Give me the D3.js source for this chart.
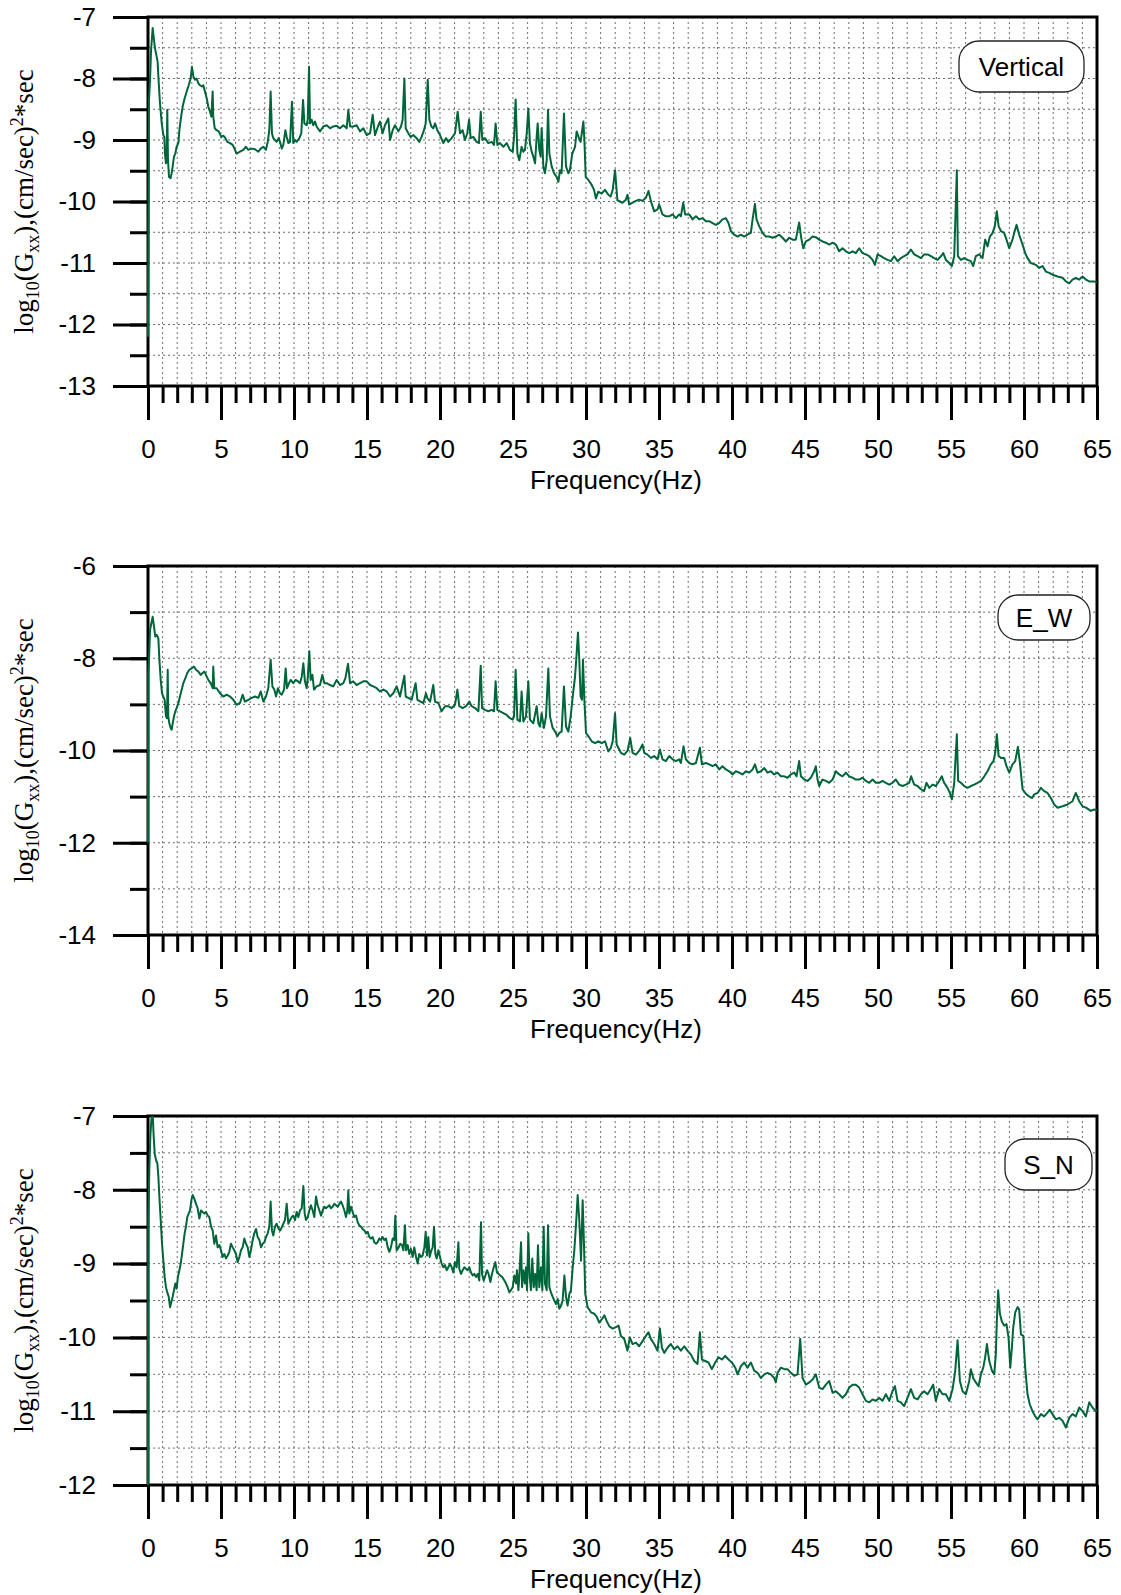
<!DOCTYPE html>
<html>
<head>
<meta charset="utf-8">
<script src="https://cdn.jsdelivr.net/npm/d3@7"></script>
<style>
  html, body { margin: 0; padding: 0; background: #fff; }
  svg { display: block; }
</style>
</head>
<body>
<script>
// ---------------- DATA ----------------
const panelNames = ["Vertical", "E_W", "S_N"];
const freqTicks = [0, 5, 10, 15, 20, 25, 30, 35, 40, 45, 50, 55, 60, 65];
const verticalYTicks = [-7, -8, -9, -10, -11, -12, -13];
const ewYTicks = [-6, -8, -10, -12, -14];
const snYTicks = [-7, -8, -9, -10, -11, -12];

// [frequency (Hz), log10(Gxx)]
const verticalSpectrum = [
[0,-12.2],[0.07,-8.35],[0.14,-8.02],[0.21,-7.54],[0.32,-7.18],[0.41,-7.37],[0.48,-7.51],[0.59,-7.64],[0.66,-7.73],[0.71,-7.97],[0.82,-8.40],[0.94,-8.73],[1.05,-8.92],[1.12,-8.95],[1.16,-9.22],[1.23,-9.38],[1.28,-9.27],[1.32,-8.51],[1.37,-9.33],[1.44,-9.60],[1.55,-9.62],[1.62,-9.54],[1.69,-9.43],[1.78,-9.27],[1.87,-9.22],[1.96,-9.11],[2.08,-9.05],[2.15,-8.84],[2.24,-8.67],[2.37,-8.46],[2.51,-8.32],[2.65,-8.21],[2.79,-8.11],[2.92,-8.00],[3.01,-7.81],[3.11,-7.97],[3.22,-8.02],[3.33,-8.00],[3.45,-8.08],[3.56,-8.11],[3.70,-8.13],[3.79,-8.11],[3.90,-8.21],[4.02,-8.32],[4.13,-8.46],[4.25,-8.54],[4.34,-8.62],[4.43,-8.21],[4.47,-8.62],[4.57,-8.81],[4.70,-8.84],[4.84,-8.86],[5.02,-8.95],[5.16,-8.93],[5.30,-8.97],[5.43,-9.03],[5.62,-9.05],[5.80,-9.08],[5.96,-9.16],[6.07,-9.22],[6.30,-9.19],[6.53,-9.16],[6.71,-9.11],[6.87,-9.16],[7.10,-9.14],[7.33,-9.15],[7.56,-9.19],[7.72,-9.14],[7.90,-9.11],[8.08,-9.16],[8.20,-9.03],[8.31,-8.84],[8.40,-8.21],[8.49,-8.89],[8.58,-8.97],[8.70,-9.00],[8.81,-9.03],[8.95,-8.97],[9.04,-9.03],[9.16,-9.14],[9.27,-9.08],[9.41,-8.84],[9.50,-8.95],[9.61,-9.05],[9.73,-9.03],[9.86,-8.38],[9.95,-9.05],[10.07,-9.00],[10.18,-9.03],[10.37,-8.97],[10.50,-8.89],[10.62,-8.35],[10.71,-8.73],[10.87,-8.76],[10.94,-8.67],[11.03,-7.81],[11.10,-8.73],[11.21,-8.67],[11.32,-8.76],[11.44,-8.70],[11.55,-8.78],[11.78,-8.86],[12.01,-8.78],[12.24,-8.76],[12.47,-8.81],[12.69,-8.78],[12.92,-8.77],[13.15,-8.81],[13.38,-8.76],[13.61,-8.81],[13.72,-8.51],[13.84,-8.78],[14.06,-8.78],[14.29,-8.76],[14.52,-8.86],[14.75,-8.81],[14.98,-8.92],[15.21,-8.89],[15.39,-8.59],[15.55,-8.92],[15.78,-8.76],[15.89,-8.70],[16.07,-8.89],[16.23,-8.76],[16.46,-8.65],[16.58,-9.00],[16.76,-8.84],[16.92,-8.76],[17.15,-8.86],[17.33,-8.78],[17.44,-8.67],[17.56,-8.00],[17.65,-8.81],[17.83,-8.89],[17.99,-8.95],[18.17,-8.92],[18.40,-8.97],[18.58,-9.03],[18.74,-8.95],[18.90,-8.84],[19.02,-8.73],[19.16,-8.02],[19.27,-8.67],[19.41,-8.78],[19.54,-8.81],[19.66,-8.73],[19.82,-8.84],[20.00,-8.92],[20.23,-9.05],[20.41,-8.97],[20.57,-9.03],[20.80,-8.97],[21.03,-8.89],[21.21,-8.54],[21.37,-8.89],[21.55,-8.84],[21.71,-9.00],[21.87,-8.89],[21.99,-8.67],[22.10,-8.97],[22.28,-8.95],[22.51,-9.03],[22.67,-9.05],[22.79,-8.54],[22.90,-9.00],[23.08,-8.97],[23.31,-9.05],[23.54,-9.03],[23.70,-9.08],[23.81,-8.73],[23.93,-9.08],[24.11,-9.05],[24.34,-9.11],[24.57,-9.05],[24.79,-9.16],[24.98,-9.19],[25.07,-8.95],[25.18,-8.34],[25.30,-9.22],[25.43,-9.33],[25.59,-9.11],[25.71,-9.19],[25.82,-9.16],[25.94,-8.89],[26.05,-8.49],[26.16,-9.05],[26.28,-9.19],[26.39,-9.27],[26.51,-9.38],[26.62,-8.95],[26.69,-8.73],[26.80,-9.16],[26.89,-9.27],[26.96,-8.81],[27.08,-9.43],[27.19,-9.54],[27.31,-9.33],[27.40,-8.51],[27.49,-9.22],[27.65,-9.43],[27.81,-9.54],[27.99,-9.60],[28.11,-9.68],[28.22,-9.49],[28.33,-9.54],[28.49,-8.57],[28.63,-9.43],[28.79,-9.54],[28.90,-9.49],[29.06,-9.22],[29.25,-9.11],[29.36,-8.86],[29.52,-8.97],[29.63,-9.03],[29.82,-8.70],[29.89,-9.00],[29.98,-9.60],[30.16,-9.65],[30.39,-9.73],[30.55,-9.81],[30.68,-9.95],[30.84,-9.84],[31.07,-9.87],[31.30,-9.81],[31.53,-9.89],[31.69,-9.92],[31.83,-9.81],[31.99,-9.49],[32.15,-9.98],[32.33,-10.00],
[32.50,-10.02],[32.73,-9.97],[32.84,-9.89],[32.96,-10.05],[33.19,-10.02],[33.42,-9.99],[33.64,-9.97],[33.87,-9.99],[34.10,-9.94],[34.28,-9.83],[34.44,-9.99],[34.67,-10.16],[34.90,-10.13],[35.01,-10.05],[35.24,-10.21],[35.47,-10.24],[35.70,-10.24],[35.93,-10.21],[36.16,-10.27],[36.38,-10.21],[36.50,-10.24],[36.66,-10.02],[36.79,-10.21],[37.07,-10.21],[37.30,-10.29],[37.53,-10.24],[37.75,-10.29],[37.98,-10.27],[38.21,-10.32],[38.44,-10.32],[38.67,-10.35],[38.89,-10.38],[39.12,-10.35],[39.35,-10.29],[39.58,-10.27],[39.76,-10.35],[39.92,-10.48],[40.15,-10.54],[40.38,-10.57],[40.61,-10.54],[40.84,-10.57],[41.06,-10.54],[41.29,-10.51],[41.41,-10.29],[41.57,-10.04],[41.68,-10.29],[41.86,-10.40],[42.09,-10.51],[42.32,-10.57],[42.55,-10.57],[42.78,-10.59],[43.00,-10.57],[43.23,-10.54],[43.46,-10.59],[43.69,-10.65],[43.92,-10.59],[44.15,-10.62],[44.37,-10.62],[44.60,-10.34],[44.74,-10.59],[44.88,-10.76],[45.06,-10.65],[45.29,-10.62],[45.52,-10.57],[45.74,-10.58],[45.97,-10.62],[46.20,-10.65],[46.43,-10.67],[46.66,-10.70],[46.89,-10.67],[47.11,-10.70],[47.34,-10.81],[47.57,-10.76],[47.80,-10.81],[48.03,-10.84],[48.26,-10.81],[48.48,-10.84],[48.71,-10.76],[48.94,-10.84],[49.17,-10.86],[49.40,-10.89],[49.63,-10.95],[49.79,-11.03],[49.97,-10.86],[50.20,-10.89],[50.42,-10.92],[50.65,-10.95],[50.88,-10.97],[51.11,-10.89],[51.34,-10.97],[51.57,-10.92],[51.79,-10.89],[52.02,-10.86],[52.25,-10.78],[52.48,-10.86],[52.71,-10.89],[52.94,-10.92],[53.16,-10.86],[53.39,-10.86],[53.62,-10.89],[53.85,-10.92],[54.08,-10.95],[54.31,-10.89],[54.47,-10.84],[54.65,-10.95],[54.88,-11.00],[55.06,-11.05],[55.22,-10.89],[55.40,-9.49],[55.47,-10.89],[55.68,-10.95],[55.90,-10.92],[56.13,-10.95],[56.36,-10.97],[56.52,-11.05],[56.70,-10.89],[56.93,-10.86],[57.16,-10.92],[57.34,-10.62],[57.50,-10.73],[57.66,-10.57],[57.85,-10.51],[58.00,-10.40],[58.14,-10.16],[58.26,-10.40],[58.42,-10.48],[58.64,-10.51],[58.80,-10.62],[58.99,-10.76],[59.21,-10.62],[59.33,-10.51],[59.49,-10.38],[59.67,-10.54],[59.90,-10.70],[60.08,-10.84],[60.24,-10.92],[60.47,-11.00],[60.81,-11.03],[61.04,-11.08],[61.27,-11.05],[61.50,-11.14],[61.73,-11.16],[61.95,-11.19],[62.30,-11.22],[62.64,-11.24],[62.87,-11.30],[63.10,-11.33],[63.32,-11.27],[63.55,-11.24],[63.78,-11.27],[64.01,-11.22],[64.24,-11.27],[64.47,-11.30],[64.81,-11.30],[65,-11.32]
];

const ewSpectrum = [
[0,-12.0],[0.02,-8.32],[0.07,-8.03],[0.14,-7.39],[0.23,-7.24],[0.32,-7.10],[0.41,-7.31],[0.50,-7.53],[0.59,-7.49],[0.71,-7.57],[0.78,-8.03],[0.87,-8.47],[0.96,-8.76],[1.05,-8.83],[1.14,-8.90],[1.23,-9.26],[1.30,-9.30],[1.35,-8.25],[1.39,-9.26],[1.46,-9.41],[1.55,-9.51],[1.62,-9.55],[1.69,-9.41],[1.78,-9.26],[1.87,-9.15],[1.96,-9.08],[2.08,-8.97],[2.19,-8.83],[2.31,-8.68],[2.42,-8.54],[2.56,-8.43],[2.69,-8.32],[2.83,-8.25],[2.99,-8.22],[3.15,-8.18],[3.29,-8.25],[3.45,-8.29],[3.61,-8.36],[3.74,-8.32],[3.86,-8.29],[3.97,-8.36],[4.13,-8.47],[4.29,-8.54],[4.43,-8.65],[4.47,-8.18],[4.54,-8.65],[4.70,-8.65],[4.93,-8.76],[5.16,-8.83],[5.39,-8.79],[5.62,-8.83],[5.84,-8.90],[6.07,-9.01],[6.30,-8.97],[6.48,-8.79],[6.64,-8.94],[6.87,-8.90],[7.10,-8.86],[7.33,-8.83],[7.56,-8.86],[7.72,-8.72],[7.90,-8.94],[8.08,-8.83],[8.24,-8.65],[8.40,-8.03],[8.52,-8.61],[8.65,-8.68],[8.77,-8.83],[8.90,-8.65],[9.04,-8.76],[9.16,-8.79],[9.32,-8.68],[9.43,-8.22],[9.52,-8.65],[9.66,-8.54],[9.77,-8.47],[9.95,-8.54],[10.11,-8.47],[10.27,-8.50],[10.41,-8.54],[10.53,-8.40],[10.64,-8.11],[10.75,-8.50],[10.87,-8.65],[10.94,-8.43],[11.05,-7.85],[11.14,-8.47],[11.26,-8.36],[11.37,-8.68],[11.55,-8.61],[11.78,-8.58],[11.94,-8.36],[12.08,-8.54],[12.24,-8.54],[12.47,-8.58],[12.69,-8.61],[12.92,-8.47],[13.15,-8.58],[13.38,-8.54],[13.52,-8.43],[13.70,-8.12],[13.84,-8.54],[14.06,-8.50],[14.29,-8.58],[14.52,-8.54],[14.75,-8.50],[14.98,-8.50],[15.21,-8.58],[15.43,-8.61],[15.66,-8.65],[15.89,-8.72],[16.12,-8.68],[16.35,-8.72],[16.58,-8.83],[16.80,-8.76],[17.03,-8.61],[17.26,-8.83],[17.56,-8.38],[17.65,-8.83],[17.83,-8.86],[18.06,-8.90],[18.33,-8.54],[18.45,-8.90],[18.68,-8.94],[18.86,-8.97],[19.04,-8.76],[19.13,-8.86],[19.32,-8.94],[19.54,-8.58],[19.66,-8.94],[19.89,-8.97],[20.11,-9.15],[20.34,-9.04],[20.57,-9.04],[20.80,-9.08],[21.03,-9.01],[21.19,-8.68],[21.32,-9.04],[21.55,-9.08],[21.78,-9.04],[22.01,-8.94],[22.17,-9.04],[22.40,-9.08],[22.63,-9.15],[22.79,-8.16],[22.88,-9.08],[23.08,-9.12],[23.31,-9.15],[23.54,-9.12],[23.70,-9.15],[23.81,-8.50],[23.93,-9.12],[24.11,-9.15],[24.34,-9.19],[24.57,-9.23],[24.79,-9.30],[24.98,-9.33],[25.07,-9.26],[25.18,-8.25],[25.30,-9.33],[25.48,-9.37],[25.59,-8.72],[25.71,-9.37],[25.89,-9.26],[26.05,-8.50],[26.16,-9.33],[26.39,-9.41],[26.62,-9.04],[26.74,-9.41],[26.85,-9.48],[26.96,-9.19],[27.12,-9.51],[27.26,-9.26],[27.42,-8.22],[27.53,-9.26],[27.72,-9.51],[27.88,-9.59],[28.04,-9.69],[28.17,-9.62],[28.33,-9.59],[28.49,-8.61],[28.63,-9.48],[28.79,-9.59],[28.95,-9.26],[29.09,-8.83],[29.25,-8.40],[29.36,-7.89],[29.45,-7.44],[29.54,-8.03],[29.63,-8.83],[29.73,-8.90],[29.79,-8.03],[29.89,-8.90],[30.00,-9.62],[30.16,-9.69],[30.39,-9.80],[30.62,-9.84],[30.84,-9.80],[31.07,-9.84],[31.30,-9.80],[31.53,-10.02],[31.69,-9.95],[31.83,-9.80],[31.99,-9.19],[32.10,-9.87],[32.28,-9.98],
[32.39,-10.05],[32.62,-10.09],[32.84,-10.01],[33.03,-9.73],[33.19,-10.05],[33.42,-10.09],[33.64,-10.01],[33.87,-9.87],[33.99,-10.05],[34.21,-10.09],[34.44,-10.16],[34.67,-10.12],[34.90,-10.19],[35.06,-9.98],[35.24,-10.19],[35.47,-10.23],[35.70,-10.12],[35.93,-10.19],[36.16,-10.23],[36.38,-10.19],[36.50,-10.27],[36.68,-9.91],[36.84,-10.19],[37.07,-10.27],[37.30,-10.30],[37.53,-10.27],[37.80,-9.94],[37.94,-10.30],[38.21,-10.27],[38.44,-10.30],[38.67,-10.34],[38.89,-10.30],[39.12,-10.41],[39.35,-10.34],[39.58,-10.41],[39.81,-10.45],[40.04,-10.52],[40.26,-10.45],[40.49,-10.48],[40.72,-10.52],[40.95,-10.45],[41.18,-10.48],[41.41,-10.41],[41.57,-10.30],[41.75,-10.48],[41.98,-10.45],[42.21,-10.38],[42.43,-10.48],[42.66,-10.45],[42.89,-10.52],[43.12,-10.48],[43.35,-10.56],[43.58,-10.56],[43.80,-10.59],[44.03,-10.52],[44.26,-10.48],[44.42,-10.56],[44.60,-10.23],[44.72,-10.56],[44.95,-10.63],[45.17,-10.66],[45.40,-10.59],[45.63,-10.45],[45.74,-10.34],[45.86,-10.63],[45.97,-10.77],[46.20,-10.63],[46.43,-10.66],[46.66,-10.70],[46.89,-10.63],[47.11,-10.45],[47.34,-10.52],[47.57,-10.56],[47.80,-10.48],[48.03,-10.56],[48.26,-10.59],[48.48,-10.63],[48.71,-10.63],[48.94,-10.59],[49.17,-10.66],[49.40,-10.70],[49.63,-10.63],[49.85,-10.70],[50.08,-10.70],[50.31,-10.66],[50.54,-10.70],[50.77,-10.74],[50.99,-10.70],[51.22,-10.63],[51.45,-10.74],[51.68,-10.77],[51.91,-10.74],[52.14,-10.70],[52.27,-10.56],[52.48,-10.74],[52.71,-10.77],[52.94,-10.84],[53.16,-10.88],[53.32,-10.70],[53.51,-10.81],[53.74,-10.74],[53.96,-10.77],[54.19,-10.66],[54.37,-10.56],[54.53,-10.70],[54.76,-10.81],[54.92,-10.92],[55.06,-11.06],[55.22,-10.70],[55.40,-9.65],[55.49,-10.66],[55.68,-10.70],[55.90,-10.77],[56.13,-10.81],[56.36,-10.77],[56.59,-10.74],[56.82,-10.70],[57.05,-10.66],[57.28,-10.56],[57.50,-10.45],[57.73,-10.30],[57.91,-10.23],[58.03,-10.05],[58.14,-9.65],[58.26,-10.12],[58.42,-10.16],[58.64,-10.16],[58.80,-10.34],[58.99,-10.48],[59.21,-10.30],[59.40,-10.23],[59.58,-9.92],[59.72,-10.27],[59.90,-10.84],[60.08,-10.92],[60.32,-10.99],[60.55,-11.03],[60.70,-10.95],[60.93,-10.92],[61.16,-10.81],[61.38,-10.88],[61.61,-10.92],[61.84,-11.03],[62.07,-11.17],[62.30,-11.24],[62.64,-11.21],[62.98,-11.17],[63.32,-11.10],[63.55,-10.92],[63.78,-11.10],[64.01,-11.21],[64.24,-11.24],[64.58,-11.31],[64.81,-11.28],[65,-11.30]
];

const snSpectrum = [
[0,-12.0],[0.02,-8.41],[0.09,-7.73],[0.16,-7.28],[0.23,-7.05],[0.32,-6.96],[0.39,-7.28],[0.46,-7.51],[0.55,-7.60],[0.64,-7.64],[0.71,-7.82],[0.78,-8.10],[0.87,-8.41],[0.96,-8.73],[1.05,-8.96],[1.14,-9.18],[1.23,-9.32],[1.32,-9.39],[1.42,-9.45],[1.51,-9.59],[1.60,-9.52],[1.69,-9.45],[1.78,-9.36],[1.87,-9.27],[1.96,-9.34],[2.05,-9.18],[2.15,-9.09],[2.24,-9.00],[2.33,-8.87],[2.42,-8.73],[2.51,-8.59],[2.60,-8.50],[2.69,-8.37],[2.79,-8.32],[2.88,-8.28],[2.97,-8.14],[3.06,-8.07],[3.17,-8.12],[3.29,-8.19],[3.40,-8.25],[3.52,-8.39],[3.63,-8.28],[3.74,-8.30],[3.86,-8.32],[3.97,-8.30],[4.09,-8.35],[4.20,-8.37],[4.32,-8.50],[4.43,-8.55],[4.54,-8.73],[4.66,-8.62],[4.77,-8.78],[4.89,-8.75],[5.00,-8.82],[5.11,-8.91],[5.23,-8.87],[5.34,-8.93],[5.46,-8.89],[5.57,-8.84],[5.68,-8.73],[5.80,-8.78],[5.91,-8.82],[6.03,-8.87],[6.14,-8.98],[6.26,-8.91],[6.37,-8.82],[6.48,-8.78],[6.60,-8.66],[6.71,-8.73],[6.83,-8.78],[6.94,-8.91],[7.05,-8.82],[7.17,-8.68],[7.28,-8.59],[7.40,-8.53],[7.51,-8.64],[7.63,-8.68],[7.74,-8.78],[7.85,-8.73],[7.97,-8.71],[8.08,-8.64],[8.20,-8.59],[8.31,-8.50],[8.40,-8.16],[8.49,-8.55],[8.58,-8.62],[8.70,-8.50],[8.81,-8.46],[8.95,-8.53],[9.06,-8.55],[9.18,-8.50],[9.27,-8.46],[9.38,-8.41],[9.50,-8.19],[9.61,-8.46],[9.73,-8.41],[9.84,-8.37],[9.95,-8.35],[10.07,-8.41],[10.18,-8.30],[10.30,-8.37],[10.41,-8.28],[10.53,-8.25],[10.64,-7.95],[10.73,-8.32],[10.82,-8.41],[10.94,-8.37],[11.05,-8.28],[11.16,-8.21],[11.28,-8.28],[11.39,-8.37],[11.51,-8.09],[11.62,-8.21],[11.74,-8.28],[11.85,-8.35],[11.96,-8.28],[12.08,-8.23],[12.19,-8.25],[12.31,-8.23],[12.42,-8.21],[12.53,-8.25],[12.65,-8.23],[12.76,-8.19],[12.88,-8.21],[12.99,-8.23],[13.11,-8.19],[13.22,-8.16],[13.33,-8.21],[13.45,-8.28],[13.56,-8.37],[13.65,-8.28],[13.72,-8.01],[13.79,-8.32],[13.90,-8.23],[14.02,-8.30],[14.13,-8.37],[14.25,-8.35],[14.36,-8.44],[14.47,-8.48],[14.59,-8.50],[14.70,-8.53],[14.82,-8.55],[14.93,-8.59],[15.05,-8.57],[15.16,-8.64],[15.27,-8.66],[15.39,-8.64],[15.50,-8.71],[15.62,-8.73],[15.73,-8.71],[15.84,-8.66],[15.96,-8.68],[16.07,-8.64],[16.19,-8.68],[16.30,-8.66],[16.42,-8.78],[16.53,-8.84],[16.64,-8.78],[16.76,-8.66],[16.87,-8.68],[16.94,-8.35],[17.03,-8.82],[17.17,-8.78],[17.28,-8.73],[17.40,-8.75],[17.49,-8.82],[17.60,-8.48],[17.67,-8.82],[17.79,-8.75],[17.90,-8.87],[18.01,-8.80],[18.13,-8.91],[18.24,-8.78],[18.36,-8.91],[18.47,-9.00],[18.58,-8.87],[18.70,-8.91],[18.81,-8.89],[18.93,-8.78],[19.02,-8.57],[19.11,-8.89],[19.20,-8.64],[19.29,-8.91],[19.41,-8.82],[19.50,-8.78],[19.59,-8.50],[19.68,-8.87],[19.77,-8.93],[19.89,-8.82],[20.00,-8.91],[20.11,-9.00],[20.23,-9.05],[20.34,-9.02],[20.46,-9.09],[20.57,-9.05],[20.68,-9.00],[20.80,-9.05],[20.91,-9.12],[21.03,-8.98],[21.14,-9.05],[21.26,-8.71],[21.32,-9.07],[21.44,-9.14],[21.55,-9.09],[21.67,-9.05],[21.78,-9.07],[21.89,-9.09],[22.01,-9.05],[22.12,-9.12],[22.24,-9.16],[22.35,-9.14],[22.47,-9.18],[22.58,-9.14],[22.69,-9.23],[22.81,-8.44],[22.88,-9.14],[22.99,-9.23],[23.11,-9.16],[23.22,-9.09],[23.33,-9.14],[23.45,-9.25],[23.56,-9.14],[23.68,-9.05],[23.79,-8.98],[23.90,-9.12],[24.02,-9.14],[24.13,-9.16],[24.25,-9.18],[24.41,-9.23],[24.52,-9.27],[24.63,-9.32],[24.75,-9.39],[24.86,-9.36],[24.98,-9.32],[25.09,-9.16],[25.21,-9.27],[25.27,-9.09],[25.37,-9.36],[25.43,-9.18],[25.55,-8.71],[25.62,-9.32],[25.71,-9.09],[25.82,-9.27],[25.89,-9.05],[25.96,-9.36],[26.05,-8.59],[26.14,-9.18],[26.23,-9.36],[26.32,-8.93],[26.42,-9.32],[26.51,-9.14],[26.62,-9.36],[26.71,-8.75],[26.80,-9.32],[26.92,-9.05],[27.01,-9.36],[27.10,-8.50],[27.19,-9.27],[27.31,-9.36],[27.40,-8.48],[27.49,-9.32],[27.60,-9.39],[27.72,-9.45],[27.83,-9.50],[27.95,-9.55],[28.06,-9.48],[28.17,-9.61],[28.29,-9.57],[28.40,-9.50],[28.52,-9.16],[28.63,-9.45],[28.74,-9.57],[28.86,-9.41],[28.97,-9.36],[29.09,-9.05],[29.20,-8.82],[29.32,-8.46],[29.43,-8.07],[29.54,-8.41],[29.66,-8.96],[29.77,-8.14],[29.86,-8.73],[29.95,-9.41],[30.11,-9.59],[30.34,-9.66],[30.57,-9.68],[30.73,-9.72],[30.91,-9.80],[31.10,-9.75],[31.26,-9.70],[31.42,-9.78],[31.60,-9.85],[31.83,-9.88],[32.05,-9.86],[32.23,-9.84],
[32.39,-9.98],[32.62,-10.02],[32.84,-10.18],[33.00,-10.00],[33.19,-10.09],[33.42,-10.07],[33.64,-10.12],[33.87,-10.05],[34.10,-9.98],[34.28,-9.93],[34.44,-10.02],[34.67,-10.09],[34.90,-10.18],[35.06,-9.88],[35.20,-10.14],[35.36,-10.21],[35.58,-10.14],[35.81,-10.09],[36.04,-10.16],[36.27,-10.12],[36.50,-10.18],[36.73,-10.12],[36.95,-10.18],[37.18,-10.23],[37.41,-10.32],[37.64,-10.36],[37.80,-9.93],[37.94,-10.30],[38.16,-10.32],[38.39,-10.34],[38.62,-10.43],[38.85,-10.34],[39.08,-10.27],[39.31,-10.30],[39.53,-10.25],[39.76,-10.30],[39.99,-10.34],[40.22,-10.41],[40.38,-10.50],[40.61,-10.39],[40.84,-10.34],[41.06,-10.41],[41.29,-10.34],[41.52,-10.45],[41.75,-10.48],[41.98,-10.55],[42.21,-10.50],[42.43,-10.48],[42.66,-10.50],[42.89,-10.55],[43.00,-10.61],[43.12,-10.48],[43.35,-10.41],[43.58,-10.43],[43.80,-10.43],[44.03,-10.48],[44.26,-10.52],[44.49,-10.50],[44.67,-10.02],[44.83,-10.55],[45.06,-10.64],[45.29,-10.61],[45.52,-10.57],[45.74,-10.50],[45.97,-10.68],[46.20,-10.70],[46.43,-10.64],[46.66,-10.59],[46.89,-10.75],[47.11,-10.73],[47.34,-10.77],[47.57,-10.82],[47.80,-10.77],[48.03,-10.68],[48.26,-10.64],[48.48,-10.64],[48.71,-10.68],[48.94,-10.77],[49.17,-10.86],[49.40,-10.88],[49.63,-10.84],[49.85,-10.86],[50.08,-10.82],[50.31,-10.86],[50.54,-10.77],[50.77,-10.86],[50.99,-10.73],[51.16,-10.66],[51.34,-10.86],[51.57,-10.88],[51.79,-10.93],[52.02,-10.82],[52.25,-10.70],[52.48,-10.82],[52.71,-10.84],[52.94,-10.77],[53.16,-10.73],[53.39,-10.77],[53.62,-10.70],[53.78,-10.64],[53.96,-10.86],[54.19,-10.70],[54.42,-10.77],[54.65,-10.77],[54.88,-10.86],[55.11,-10.70],[55.29,-10.45],[55.45,-10.04],[55.61,-10.59],[55.79,-10.73],[56.02,-10.77],[56.25,-10.59],[56.36,-10.43],[56.52,-10.55],[56.70,-10.61],[56.89,-10.66],[57.05,-10.50],[57.21,-10.41],[57.34,-10.27],[57.46,-10.09],[57.62,-10.32],[57.80,-10.45],[57.96,-10.50],[58.07,-10.23],[58.14,-9.78],[58.23,-9.36],[58.35,-9.68],[58.48,-9.78],[58.64,-9.84],[58.80,-9.82],[58.94,-10.00],[59.06,-10.41],[59.17,-10.14],[59.26,-9.87],[59.40,-9.66],[59.56,-9.59],[59.67,-9.62],[59.79,-9.96],[59.95,-9.98],[60.08,-10.41],[60.24,-10.77],[60.40,-10.91],[60.58,-11.00],[60.77,-11.07],[60.93,-11.11],[61.16,-11.04],[61.38,-11.07],[61.61,-11.02],[61.77,-10.98],[61.95,-11.04],[62.18,-11.11],[62.41,-11.09],[62.64,-11.13],[62.87,-11.22],[63.10,-11.09],[63.32,-11.04],[63.55,-11.07],[63.78,-10.95],[64.01,-11.00],[64.24,-11.07],[64.47,-10.88],[64.69,-10.95],[64.92,-11.00],[65,-10.98]
];

// ---------------- LAYOUT ----------------
const W = 1121, H = 1595;
const plotLeft = 148, plotRight = 1097, plotH = 369;
const panels = [
  { name: panelNames[0], data: verticalSpectrum, top: 17,   domain: [-13, -7], labels: verticalYTicks, minorStep: 0.5, gridStep: 0.5,
    legend: { x: 959, y: 41, w: 125, h: 51 } },
  { name: panelNames[1], data: ewSpectrum,       top: 566,  domain: [-14, -6], labels: ewYTicks,       minorStep: 1,   gridStep: 1,
    legend: { x: 998, y: 595, w: 92, h: 45 } },
  { name: panelNames[2], data: snSpectrum,       top: 1116, domain: [-12, -7], labels: snYTicks,       minorStep: 0.5, gridStep: 0.5,
    legend: { x: 1005, y: 1139, w: 87, h: 51 } }
];

const sansFont = "'Liberation Sans', Arial, Helvetica, sans-serif";
const serifFont = "'Liberation Serif', 'Times New Roman', serif";
const lineColor = "#00663a";
const fmtTick = d => String(d);

const svg = d3.select("body").append("svg")
  .attr("width", W).attr("height", H)
  .attr("viewBox", `0 0 ${W} ${H}`);

const x = d3.scaleLinear().domain([0, 65]).range([plotLeft, plotRight]);

panels.forEach((p, i) => {
  const top = p.top, bottom = top + plotH;
  const y = d3.scaleLinear().domain(p.domain).range([bottom, top]);
  const g = svg.append("g");

  // grid
  const grid = g.append("g").attr("stroke", "#6e6e6e").attr("stroke-width", 1)
    .attr("stroke-dasharray", "2,3");
  d3.range(1, 65, 1).forEach(f => {
    grid.append("line").attr("x1", x(f)).attr("x2", x(f)).attr("y1", top).attr("y2", bottom);
  });
  const nGrid = Math.round((p.domain[1] - p.domain[0]) / p.gridStep);
  for (let k = 1; k < nGrid; k++) {
    const v = p.domain[0] + k * p.gridStep;
    grid.append("line").attr("x1", plotLeft).attr("x2", plotRight).attr("y1", y(v)).attr("y2", y(v));
  }

  // x axis: minor + major
  const xMinor = d3.axisBottom(x).tickValues(d3.range(0, 66, 1)).tickSize(17).tickFormat(() => "");
  const xMajor = d3.axisBottom(x).tickValues(freqTicks).tickSize(34).tickPadding(20).tickFormat(fmtTick);
  [xMinor, xMajor].forEach(ax => {
    const ag = g.append("g").attr("transform", `translate(0,${bottom})`).call(ax);
    ag.select(".domain").remove();
    ag.selectAll(".tick line").attr("stroke", "#000").attr("stroke-width", 3);
    ag.selectAll(".tick text").attr("fill", "#000").style("font-family", sansFont).style("font-size", "26px");
  });

  // y axis: minor + major
  const nMinor = Math.round((p.domain[1] - p.domain[0]) / p.minorStep);
  const minorVals = d3.range(0, nMinor + 1).map(k => p.domain[0] + k * p.minorStep);
  const yMinor = d3.axisLeft(y).tickValues(minorVals).tickSize(18).tickFormat(() => "");
  const yMajor = d3.axisLeft(y).tickValues(p.labels).tickSize(35).tickPadding(17).tickFormat(fmtTick);
  [yMinor, yMajor].forEach(ax => {
    const ag = g.append("g").attr("transform", `translate(${plotLeft},0)`).call(ax);
    ag.select(".domain").remove();
    ag.selectAll(".tick line").attr("stroke", "#000").attr("stroke-width", 3);
    ag.selectAll(".tick text").attr("fill", "#000").style("font-family", sansFont).style("font-size", "26px");
  });

  // frame
  g.append("rect").attr("x", plotLeft).attr("y", top).attr("width", plotRight - plotLeft).attr("height", plotH)
    .attr("fill", "none").attr("stroke", "#000").attr("stroke-width", 3);

  // data line
  const clipId = "clip" + i;
  svg.append("clipPath").attr("id", clipId).append("rect")
    .attr("x", plotLeft - 1).attr("y", top).attr("width", plotRight - plotLeft + 1).attr("height", plotH);
  const line = d3.line().x(d => x(d[0])).y(d => y(d[1]));
  g.append("path").datum(p.data).attr("clip-path", `url(#${clipId})`)
    .attr("d", line).attr("fill", "none").attr("stroke", lineColor).attr("stroke-width", 2)
    .attr("stroke-linejoin", "round");

  // legend box
  const L = p.legend;
  g.append("rect").attr("x", L.x).attr("y", L.y).attr("width", L.w).attr("height", L.h)
    .attr("rx", 20).attr("ry", 20).attr("fill", "#fff").attr("stroke", "#222").attr("stroke-width", 1.3);
  g.append("text").attr("x", L.x + L.w / 2).attr("y", L.y + L.h / 2).attr("dy", "0.36em")
    .attr("text-anchor", "middle").style("font-family", sansFont).style("font-size", "26px").text(p.name);

  // x title
  g.append("text").attr("x", 616).attr("y", bottom + 103).attr("text-anchor", "middle")
    .style("font-family", sansFont).style("font-size", "26px").text("Frequency(Hz)");

  // y title
  const yt = g.append("text")
    .attr("transform", `translate(33,${(top + bottom) / 2}) rotate(-90)`)
    .attr("text-anchor", "middle").style("font-family", serifFont).style("font-size", "27px");
  yt.append("tspan").text("log");
  yt.append("tspan").attr("dy", 6).style("font-size", "18px").text("10");
  yt.append("tspan").attr("dy", -6).text("(G");
  yt.append("tspan").attr("dy", 6).style("font-size", "18px").text("xx");
  yt.append("tspan").attr("dy", -6).text("),(cm/sec)");
  yt.append("tspan").attr("dy", -10).style("font-size", "18px").text("2");
  yt.append("tspan").attr("dy", 10).text("*sec");
});
</script>
</body>
</html>
